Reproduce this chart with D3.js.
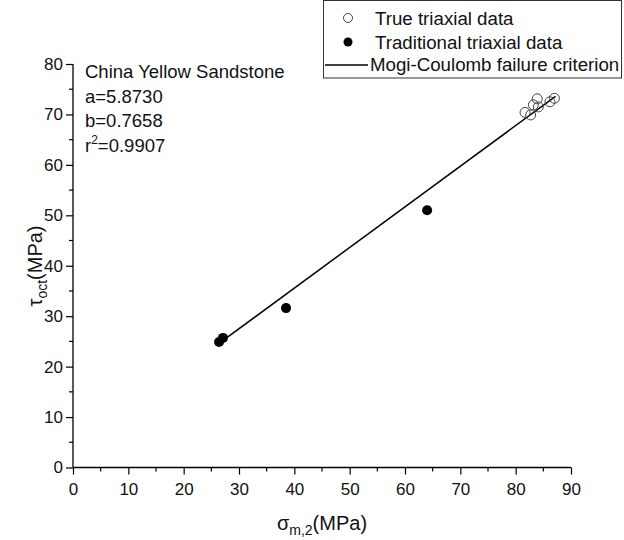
<!DOCTYPE html>
<html>
<head>
<meta charset="utf-8">
<script src="https://cdn.jsdelivr.net/npm/d3@7/dist/d3.min.js"></script>
<style>
  html, body { margin: 0; padding: 0; background: #fff; }
  svg { display: block; }
  text { font-family: Arial, "Liberation Sans", sans-serif; fill: #111; }
</style>
</head>
<body>
<svg id="chart" width="624" height="540"></svg>
<script>
// ---- data ----
const trueX = [81.7, 82.7, 83.2, 83.9, 84.1, 86.2, 87.0];
const trueY = [70.4, 69.9, 71.9, 73.1, 71.5, 72.5, 73.2];
const tradX = [26.4, 27.1, 38.5, 64.0];
const tradY = [24.9, 25.7, 31.6, 51.0];
const fitX = [25.9, 87.2];
const fitY = [24.2, 73.6];
const xTicks = [0, 10, 20, 30, 40, 50, 60, 70, 80, 90];
const yTicks = [0, 10, 20, 30, 40, 50, 60, 70, 80];
const annotation = ["China Yellow Sandstone", "a=5.8730", "b=0.7658"];
const r2Text = ["r", "2", "=0.9907"];
const legendLabels = ["True triaxial data", "Traditional triaxial data", "Mogi-Coulomb failure criterion"];

// ---- layout ----
const svg = d3.select("#chart");
const x = d3.scaleLinear().domain([0, 90]).range([73, 571]);
const y = d3.scaleLinear().domain([0, 80]).range([467.5, 64]);
const tickFont = 17;

// axes
const xAxis = d3.axisBottom(x).tickValues(xTicks).tickSize(7).tickPadding(8).tickFormat(d3.format("d"));
const gx = svg.append("g").attr("transform", `translate(0,${y(0)})`).call(xAxis);
gx.selectAll(".minor").data(d3.range(5, 90, 10)).enter().append("line")
  .attr("x1", d => x(d)).attr("x2", d => x(d)).attr("y1", 0).attr("y2", 4)
  .attr("stroke", "#000").attr("stroke-width", 1.2);

const yAxis = d3.axisLeft(y).tickValues(yTicks).tickSize(7).tickPadding(3).tickFormat(d3.format("d"));
const gy = svg.append("g").attr("transform", `translate(${x(0)},0)`).call(yAxis);
gy.selectAll(".minor").data(d3.range(5, 80, 10)).enter().append("line")
  .attr("y1", d => y(d)).attr("y2", d => y(d)).attr("x1", 0).attr("x2", -4)
  .attr("stroke", "#000").attr("stroke-width", 1.2);

[gx, gy].forEach(g => {
  g.select(".domain").attr("stroke", "#000").attr("stroke-width", 1.3);
  g.selectAll(".tick line").attr("stroke", "#000").attr("stroke-width", 1.2);
  g.selectAll(".tick text").attr("font-size", tickFont)
    .attr("font-family", 'Arial, "Liberation Sans", sans-serif').attr("fill", "#111");
});
gy.select(".domain").attr("d", `M0,${y(80)}V${y(0)}`);
gx.select(".domain").attr("d", `M${x(0)},0H${x(90)}`);

// fit line
const line = d3.line().x(d => x(d[0])).y(d => y(d[1]));
svg.append("path").datum(d3.zip(fitX, fitY)).attr("d", line)
  .attr("fill", "none").attr("stroke", "#000").attr("stroke-width", 1.5);

// traditional (filled)
svg.selectAll(".trad").data(d3.zip(tradX, tradY)).enter().append("circle")
  .attr("cx", d => x(d[0])).attr("cy", d => y(d[1])).attr("r", 5).attr("fill", "#000");

// true triaxial (open)
svg.selectAll(".tru").data(d3.zip(trueX, trueY)).enter().append("circle")
  .attr("cx", d => x(d[0])).attr("cy", d => y(d[1])).attr("r", 5)
  .attr("fill", "none").attr("stroke", "#444").attr("stroke-width", 1);

// annotation
const ann = svg.append("g");
annotation.forEach((t, i) => {
  ann.append("text").attr("x", 85).attr("y", 78 + i * 24.7).attr("font-size", 18.5).text(t);
});
const rt = ann.append("text").attr("x", 85).attr("y", 78 + 3 * 24.7).attr("font-size", 18.5);
rt.append("tspan").text(r2Text[0]);
rt.append("tspan").attr("font-size", 12).attr("dy", -8).text(r2Text[1]);
rt.append("tspan").attr("dy", 8).text(r2Text[2]);

// axis titles
const xt = svg.append("text").attr("x", 322).attr("y", 530).attr("text-anchor", "middle").attr("font-size", 20);
xt.append("tspan").text("σ");
xt.append("tspan").attr("font-size", 14).attr("dy", 5).text("m,2");
xt.append("tspan").attr("dy", -5).text("(MPa)");

const yt = svg.append("text").attr("transform", "translate(42,266) rotate(-90)").attr("text-anchor", "middle").attr("font-size", 20);
yt.append("tspan").text("τ");
yt.append("tspan").attr("font-size", 14).attr("dy", 5).text("oct");
yt.append("tspan").attr("dy", -5).text("(MPa)");

// legend
const lg = svg.append("g");
lg.append("rect").attr("x", 323.5).attr("y", 0.5).attr("width", 298).attr("height", 77.5)
  .attr("fill", "#fff").attr("stroke", "#333").attr("stroke-width", 1);
lg.append("circle").attr("cx", 348).attr("cy", 18).attr("r", 4.5).attr("fill", "none").attr("stroke", "#444").attr("stroke-width", 1);
lg.append("circle").attr("cx", 348).attr("cy", 42).attr("r", 4.5).attr("fill", "#000");
lg.append("line").attr("x1", 325).attr("x2", 368).attr("y1", 65).attr("y2", 65).attr("stroke", "#000").attr("stroke-width", 1.5);
const lx = [375, 375, 370];
const ly = [25, 48.5, 71];
legendLabels.forEach((t, i) => {
  lg.append("text").attr("x", lx[i]).attr("y", ly[i]).attr("font-size", 18.7).text(t);
});
</script>
</body>
</html>
